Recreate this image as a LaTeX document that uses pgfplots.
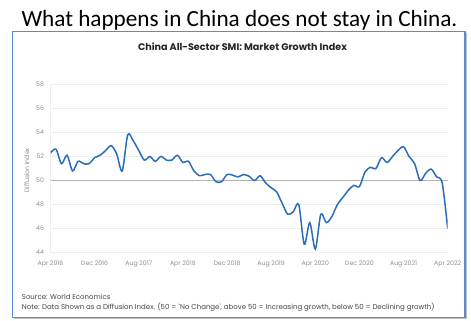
\documentclass[border=0pt]{standalone}
\usepackage{pgfplots}
\pgfplotsset{compat=1.18}
\usepackage{fontspec}
\setmainfont{Carlito}
\newfontfamily\pop{Poppins}
\definecolor{lineblue}{HTML}{2A6DB8}
\definecolor{boxblue}{HTML}{5A8CCB}
\definecolor{tickgray}{HTML}{8E8E8E}
\definecolor{gridgray}{HTML}{EEEEEE}
\definecolor{notegray}{HTML}{444444}
\begin{document}
\begin{tikzpicture}
\path[use as bounding box] (0,0) rectangle (471pt,-321pt);
% headline
\node[anchor=base, font=\fontsize{23.2}{25}\selectfont, inner sep=0pt] at (239.5pt,-26.7pt) {What happens in China does not stay in China.};
% frame
\fill[black!25] (14pt,-33pt) rectangle (466.5pt,-318.8pt);
\fill[white] (12.7pt,-31.7pt) rectangle (465pt,-317.3pt);
\draw[boxblue, line width=1.1pt] (12.7pt,-31.7pt) rectangle (465pt,-317.3pt);
% inner title
\node[font=\pop\bfseries\fontsize{9.6}{11}\selectfont, text=black!85, inner sep=0pt] at (242.5pt,-46.7pt) {China All-Sector SMI: Market Growth Index};
\begin{axis}[
  at={(50.5pt,-252.7pt)}, anchor=south west,
  scale only axis, width=397.2pt, height=168.4pt,
  xmin=0, xmax=72, ymin=44, ymax=58,
  xtick={0,8,16,24,32,40,48,56,64,72},
  xticklabels={Apr 2016,Dec 2016,Aug 2017,Apr 2018,Dec 2018,Aug 2019,Apr 2020,Dec 2020,Aug 2021,Apr 2022},
  ytick={44,46,48,50,52,54,56,58},
  tick style={draw=none},
  ticklabel style={font=\pop\fontsize{6.2}{7}\selectfont, text=tickgray},
  /pgf/number format/assume math mode=true,
  xticklabel style={yshift=-4.5pt},
  yticklabel style={xshift=-3pt},
  ymajorgrids, grid style={gridgray, line width=0.6pt},
  axis x line*=bottom, x axis line style={draw=none},
  axis y line*=left, y axis line style={gridgray, line width=0.6pt},
  ylabel={Diffusion Index},
  ylabel style={font=\pop\fontsize{6.2}{7}\selectfont, text=tickgray, at={(ticklabel cs:0.5)}, xshift=-2pt},
]
\addplot[black!30, line width=0.7pt, forget plot] coordinates {(0,50) (72,50)};
\addplot[lineblue, line width=1.5pt, smooth, tension=0.5] coordinates {
(0,52.3) (1,52.6) (2,51.4) (3,52.1) (4,50.8) (5,51.6) (6,51.4) (7,51.4) (8,51.9) (9,52.1)
(10,52.5) (11,52.9) (12,52.2) (13,50.8) (14,53.8) (15,53.3) (16,52.5) (17,51.7) (18,52.0) (19,51.6)
(20,52.0) (21,51.7) (22,51.7) (23,52.1) (24,51.5) (25,51.6) (26,50.8) (27,50.4) (28,50.5) (29,50.5)
(30,49.9) (31,49.9) (32,50.5) (33,50.45) (34,50.3) (35,50.5) (36,50.35) (37,50.0) (38,50.4) (39,49.8)
(40,49.4) (41,49.05) (42,48.1) (43,47.2) (44,47.4) (45,48.0) (46,44.7) (47,46.5) (48,44.3) (49,47.2)
(50,46.5) (51,47.0) (52,48.0) (53,48.6) (54,49.2) (55,49.6) (56,49.5) (57,50.7) (58,51.1) (59,51.0)
(60,51.9) (61,51.5) (62,52.0) (63,52.5) (64,52.8) (65,52.0) (66,51.4) (67,50.0) (68,50.6) (69,50.95)
(70,50.3) (71,49.8) (72,46.0)
};
\end{axis}
% source notes
\node[anchor=west, font=\pop\fontsize{7}{8}\selectfont, text=notegray, inner sep=0pt] at (21.7pt,-297.3pt) {Source: World Economics};
\node[anchor=west, font=\pop\fontsize{7}{8}\selectfont, text=notegray, inner sep=0pt] at (21.7pt,-306.7pt) {Note: Data Shown as a Diffusion Index. (50 = `No Change', above 50 = Increasing growth, below 50 = Declining growth)};
\end{tikzpicture}
\end{document}
